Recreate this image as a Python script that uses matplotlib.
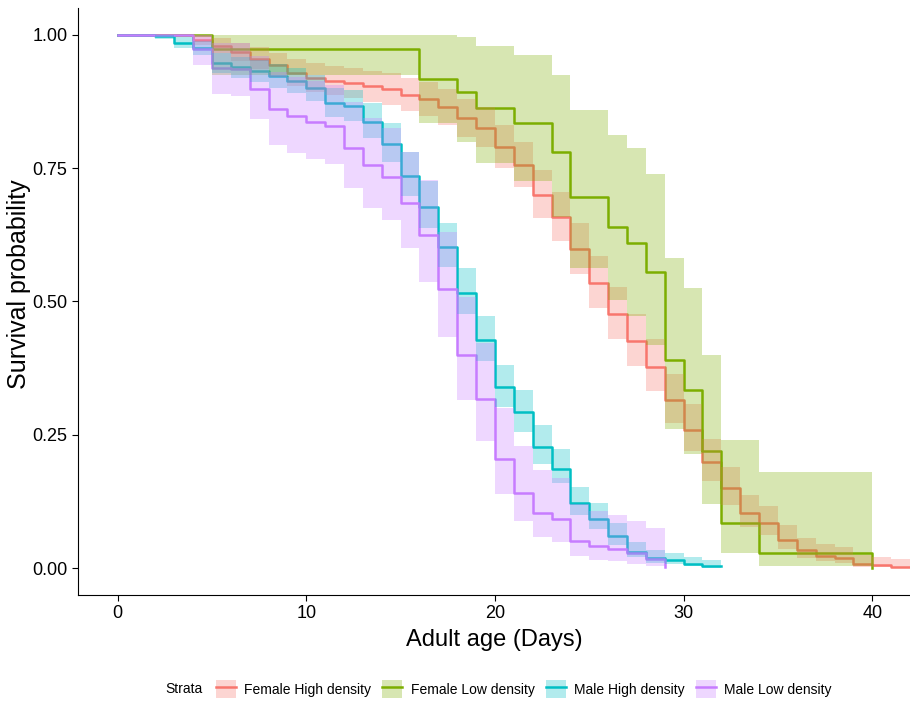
import numpy as np
import matplotlib
matplotlib.use('Agg')
import matplotlib.pyplot as plt
from matplotlib.patches import Patch
from matplotlib.lines import Line2D

plt.rcParams['font.family'] = ['Liberation Sans', 'DejaVu Sans']

# Kaplan-Meier steps (time, survival, lower CI, upper CI)
fh_time = [0, 4, 5, 6, 7, 8, 9, 10, 11, 12, 13, 14, 15, 16, 17, 18, 19, 20, 21, 22,
           23, 24, 25, 26, 27, 28, 29, 30, 31, 32, 33, 34, 35, 36, 37, 38, 39, 40, 41, 43]
fh_surv = [1.0, 0.99, 0.979, 0.968, 0.955, 0.943, 0.928, 0.919, 0.914, 0.909, 0.903, 0.898,
           0.887, 0.879, 0.864, 0.844, 0.826, 0.789, 0.756, 0.70, 0.658, 0.598, 0.534, 0.476,
           0.426, 0.378, 0.315, 0.26, 0.199, 0.15, 0.103, 0.085, 0.054, 0.034, 0.024, 0.02,
           0.009, 0.006, 0.0025, 0.0025]
fh_lower = [1.0, 0.98, 0.965, 0.951, 0.935, 0.92, 0.903, 0.893, 0.887, 0.881, 0.874, 0.869,
            0.857, 0.848, 0.831, 0.809, 0.789, 0.75, 0.715, 0.657, 0.613, 0.552, 0.487, 0.429,
            0.38, 0.333, 0.273, 0.22, 0.163, 0.119, 0.077, 0.062, 0.036, 0.02, 0.013, 0.01,
            0.0032, 0.0017, 0.0004, 0.0004]
fh_upper = [1.0, 1.0, 0.993, 0.985, 0.976, 0.966, 0.954, 0.946, 0.942, 0.938, 0.932, 0.928,
            0.919, 0.912, 0.898, 0.88, 0.864, 0.831, 0.799, 0.746, 0.706, 0.648, 0.585, 0.528,
            0.477, 0.429, 0.364, 0.307, 0.242, 0.189, 0.138, 0.117, 0.081, 0.057, 0.045, 0.04,
            0.025, 0.021, 0.018, 0.018]

fl_time = [0, 5, 16, 18, 19, 21, 23, 24, 26, 27, 28, 29, 30, 31, 32, 34, 40]
fl_surv = [1.0, 0.974, 0.917, 0.892, 0.862, 0.835, 0.78, 0.695, 0.639, 0.61, 0.556, 0.39,
           0.335, 0.22, 0.084, 0.028, 0.0]
fl_lower = [1.0, 0.924, 0.834, 0.799, 0.759, 0.725, 0.659, 0.563, 0.503, 0.473, 0.418, 0.262,
            0.214, 0.121, 0.029, 0.0043, 0.0]
fl_upper = [1.0, 1.0, 1.0, 0.996, 0.979, 0.962, 0.924, 0.858, 0.812, 0.787, 0.739, 0.581,
            0.525, 0.40, 0.24, 0.18, 0.0]

mh_time = [0, 2, 3, 4, 5, 6, 7, 8, 9, 10, 11, 12, 13, 14, 15, 16, 17, 18, 19, 20, 21, 22,
           23, 24, 25, 26, 27, 28, 29, 30, 31, 32]
mh_surv = [1.0, 0.997, 0.985, 0.975, 0.947, 0.939, 0.932, 0.923, 0.913, 0.90, 0.872, 0.866,
           0.837, 0.796, 0.736, 0.677, 0.603, 0.516, 0.428, 0.339, 0.292, 0.228, 0.187, 0.123,
           0.093, 0.060, 0.031, 0.019, 0.015, 0.009, 0.004, 0.004]
mh_lower = [1.0, 0.992, 0.975, 0.962, 0.928, 0.919, 0.911, 0.901, 0.89, 0.875, 0.845, 0.838,
            0.806, 0.762, 0.697, 0.637, 0.564, 0.477, 0.388, 0.302, 0.256, 0.196, 0.159, 0.099,
            0.073, 0.043, 0.021, 0.010, 0.0076, 0.0037, 0.001, 0.001]
mh_upper = [1.0, 1.0, 0.995, 0.988, 0.966, 0.959, 0.953, 0.945, 0.937, 0.925, 0.901, 0.896,
            0.872, 0.834, 0.781, 0.725, 0.647, 0.562, 0.473, 0.381, 0.334, 0.268, 0.223, 0.153,
            0.122, 0.084, 0.049, 0.035, 0.029, 0.022, 0.015, 0.015]

ml_time = [0, 4, 5, 6, 7, 8, 9, 10, 11, 12, 13, 14, 15, 16, 17, 18, 19, 20, 21, 22, 23, 24,
           25, 26, 27, 28, 29]
ml_surv = [1.0, 0.974, 0.937, 0.935, 0.899, 0.86, 0.847, 0.837, 0.828, 0.788, 0.755, 0.734,
           0.684, 0.625, 0.523, 0.40, 0.317, 0.205, 0.142, 0.103, 0.092, 0.052, 0.042, 0.036,
           0.028, 0.017, 0.003]
ml_lower = [1.0, 0.943, 0.889, 0.886, 0.842, 0.794, 0.779, 0.767, 0.757, 0.712, 0.676, 0.652,
            0.60, 0.537, 0.434, 0.315, 0.238, 0.139, 0.088, 0.058, 0.05, 0.0225, 0.0165, 0.013,
            0.0088, 0.0039, 0.001]
ml_upper = [1.0, 1.0, 0.985, 0.984, 0.96, 0.931, 0.92, 0.913, 0.906, 0.873, 0.844, 0.826,
            0.78, 0.727, 0.631, 0.508, 0.422, 0.30, 0.23, 0.184, 0.17, 0.12, 0.107, 0.10,
            0.089, 0.075, 0.075]

strata = ['Female High density', 'Female Low density', 'Male High density', 'Male Low density']
colors = ['#F8766D', '#7CAE00', '#00BFC4', '#C77CFF']
series = [(fh_time, fh_surv, fh_lower, fh_upper),
          (fl_time, fl_surv, fl_lower, fl_upper),
          (mh_time, mh_surv, mh_lower, mh_upper),
          (ml_time, ml_surv, ml_lower, ml_upper)]

fig = plt.figure(figsize=(9.1, 7.01), dpi=100)
ax = fig.add_axes([78 / 910, 1 - 595 / 701, 1 - 78 / 910, (595 - 8) / 701])

# lines first, ribbons on top (as in survminer)
for (t, s, lo, up), c in zip(series, colors):
    ax.step(t, s, where='post', color=c, lw=1.8, zorder=2)
for (t, s, lo, up), c in zip(series, colors):
    ax.fill_between(t, lo, up, step='post', color=c, alpha=0.3, lw=0, zorder=3)

ax.set_xlim(-2.1, 42)
ax.set_ylim(-0.05, 1.05)
ax.set_xticks([0, 10, 20, 30, 40])
ax.set_yticks([0, 0.25, 0.5, 0.75, 1.0])
ax.set_yticklabels(['0.00', '0.25', '0.50', '0.75', '1.00'])
ax.tick_params(labelsize=13, length=4, width=0.8, colors='black')
ax.spines['top'].set_visible(False)
ax.spines['right'].set_visible(False)
ax.set_xlabel('Adult age (Days)', fontsize=17, labelpad=5)
ax.set_ylabel('Survival probability', fontsize=18, labelpad=8)
ax.yaxis.set_label_coords(-0.056, 0.53)

handles = [(Patch(facecolor=c, alpha=0.3, lw=0), Line2D([], [], color=c, lw=1.8))
           for c in colors]
fig.text(165 / 910, 1 - 689 / 701, 'Strata', fontsize=10, va='center', ha='left')
fig.legend(handles, strata, loc='center left', bbox_to_anchor=(210 / 910, 1 - 689 / 701),
           ncol=4, frameon=False, fontsize=10, handlelength=1.45, handleheight=1.6,
           columnspacing=0.8, handletextpad=0.6, borderaxespad=0)

fig.savefig('out.png', dpi=100)
